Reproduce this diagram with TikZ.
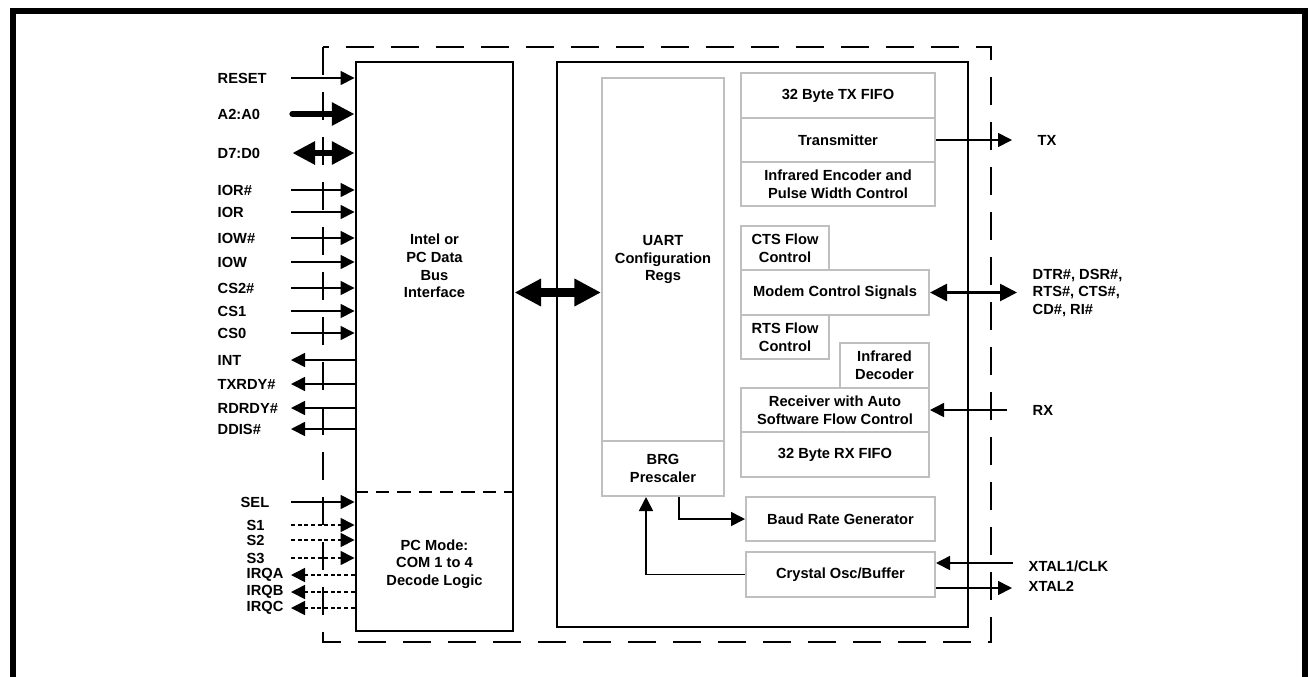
\documentclass[tikz,border=0pt]{standalone}
\usepackage{fontspec}
\setmainfont{Liberation Sans}
\usetikzlibrary{arrows.meta}

\tikzset{
  blk/.style={draw=black, line width=2.2pt, inner sep=0pt},
  gbox/.style={draw=gray!50, line width=1.5pt, inner sep=0pt, align=center},
  sig/.style={line width=1.2pt, -{Triangle[length=10.5pt,width=10.5pt]}},
  dsig/.style={dash pattern={on 3pt off 2pt}},
  wide/.style={line width=4.5pt, line cap=round, -{Triangle[length=17pt,width=16.5pt]}},
  widedbl/.style={line width=4.5pt, {Triangle[length=17pt,width=16.5pt]}-{Triangle[length=17pt,width=16.5pt]}},
  busarr/.style={line width=6.4pt, {Triangle[length=20pt,width=19.5pt]}-{Triangle[length=20pt,width=19.5pt]}},
  mdmarr/.style={line width=2pt, {Triangle[length=12.75pt,width=12.75pt]}-{Triangle[length=12.75pt,width=12.75pt]}}
}

\begin{document}
\begin{tikzpicture}[x=0.75pt,y=0.75pt,yscale=-1,xscale=1,
  every node/.style={font=\bfseries\fontsize{11}{13.2}\selectfont}]
\useasboundingbox (0,0) rectangle (1308,676);

%Frame
\draw [line width=4.5pt] (13,690) -- (13,11) -- (1305,11) -- (1305,690) ;
%Dashed outline
\draw [line width=1.5pt, dash pattern={on 21pt off 12.75pt}] (323,47) rectangle (991,642) ;

%Main blocks
\node (bus) at (434.5,346.5) [blk, minimum width=117.75pt, minimum height=426.75pt] {};
\node (core) at (762.5,344.5) [blk, minimum width=308.25pt, minimum height=423.75pt] {};
\coordinate (dv) at (0,492);
\draw [line width=1.5pt, dash pattern={on 10pt off 6pt}] (bus.west |- dv) -- (bus.east |- dv) ;

% Text Node
\node (bustxt) at (434.5,266) [align=center] {Intel or\\PC Data\\Bus\\Interface};
% Text Node
\node (pctxt) at (434.5,564) [align=center] {PC Mode:\\COM 1 to 4\\Decode Logic};

%UART blocks
\node (uart) at (663,259.5) [gbox, minimum width=91.5pt, minimum height=272.25pt] {UART\\Configuration\\Regs};
\node (brg) at (663,468.5) [gbox, minimum width=91.5pt, minimum height=41.25pt] {BRG\\Prescaler};
\node (txfifo) at (838,95.5) [gbox, minimum width=145.5pt, minimum height=33.75pt] {32 Byte TX FIFO};
\node (txmit) at (838,140) [gbox, minimum width=145.5pt, minimum height=33pt] {Transmitter};
\node (irenc) at (838,184) [gbox, minimum width=145.5pt, minimum height=33pt] {Infrared Encoder and\\Pulse Width Control};
\node (cts) at (785,248) [gbox, minimum width=66pt, minimum height=33pt] {CTS Flow\\Control};
\node (modem) at (835,292.5) [gbox, minimum width=141pt, minimum height=33.75pt] {Modem Control Signals};
\node (rts) at (785,337) [gbox, minimum width=66pt, minimum height=33pt] {RTS Flow\\Control};
\node (irdec) at (884.5,365.5) [gbox, minimum width=66.75pt, minimum height=33.75pt] {Infrared\\Decoder};
\node (rcvr) at (835,410) [gbox, minimum width=141pt, minimum height=33pt] {Receiver with Auto\\Software Flow Control};
\node (rxfifo) at (835,454.5) [gbox, minimum width=141pt, minimum height=33.75pt] {32 Byte RX FIFO};
\node (baud) at (840.5,519) [gbox, minimum width=141.75pt, minimum height=33pt] {Baud Rate Generator};
\node (xtal) at (840.5,574.5) [gbox, minimum width=141.75pt, minimum height=33.75pt] {Crystal Osc/Buffer};

%Left side signals
\coordinate (lin) at (291,0);
\foreach \lab/\y [count=\i] in {RESET/78, IOR\#/190, IOR/212, IOW\#/238, IOW/262, CS2\#/288, CS1/311, CS0/333}
{
  \node (in\i) at (213,\y) [anchor=west] {\lab};
  \draw [sig] (lin |- in\i) -- (in\i -| bus.west) ;
}
\foreach \lab/\y [count=\i] in {INT/360, TXRDY\#/384, RDRDY\#/408, DDIS\#/429}
{
  \node (out\i) at (213,\y) [anchor=west] {\lab};
  \draw [sig] (out\i -| bus.west) -- (lin |- out\i) ;
}
\node (addr) at (213,114) [anchor=west] {A2:A0};
\draw [wide] ([xshift=1pt]lin |- addr) -- (addr -| bus.west) ;
\node (data) at (213,153) [anchor=west] {D7:D0};
\draw [widedbl] ([xshift=1pt]lin |- data) -- (data -| bus.west) ;

\node (sel) at (236,502) [anchor=west] {SEL};
\draw [sig] (lin |- sel) -- (sel -| bus.west) ;
\foreach \lab/\y [count=\i] in {S1/525, S2/540, S3/558}
{
  \node (s\i) at (242,\y) [anchor=west] {\lab};
  \draw [sig, dsig] (lin |- s\i) -- (s\i -| bus.west) ;
}
\foreach \lab/\y [count=\i] in {IRQA/575, IRQB/592, IRQC/608}
{
  \node (irq\i) at (242,\y) [anchor=west] {\lab};
  \draw [sig, dsig] (irq\i -| bus.west) -- (lin |- irq\i) ;
}

%Bus between blocks
\draw [busarr] (bus.east |- modem.west) -- (uart.west |- modem.west) ;

%Internal clock path
\draw [sig] ([xshift=12pt]brg.south) |- (baud.west) ;
\draw [sig] (xtal.west) -| ([xshift=-12.75pt]brg.south) ;

%Right side signals
\coordinate (txo) at (1012,0);
\node (txlab) at (1033,140) [anchor=west] {TX};
\draw [sig] (txmit.east) -- (txmit.east -| txo) ;

\coordinate (mdo) at (1017,0);
\node (mdlab) at (1028,293) [anchor=west, align=left] {DTR\#, DSR\#,\\RTS\#, CTS\#,\\CD\#, RI\#};
\draw [mdmarr] (modem.east) -- (modem.east -| mdo) ;

\coordinate (rxi) at (1007,0);
\node (rxlab) at (1028,410) [anchor=west] {RX};
\draw [sig] (rcvr.east -| rxi) -- (rcvr.east) ;

\coordinate (x1) at (1013,563);
\coordinate (x2) at (1012,588);
\node (x1lab) at (1024,566) [anchor=west] {XTAL1/CLK};
\node (x2lab) at (1024,586) [anchor=west] {XTAL2};
\draw [sig] (x1) -- (xtal.east |- x1) ;
\draw [sig] (xtal.east |- x2) -- (x2) ;

\end{tikzpicture}
\end{document}
